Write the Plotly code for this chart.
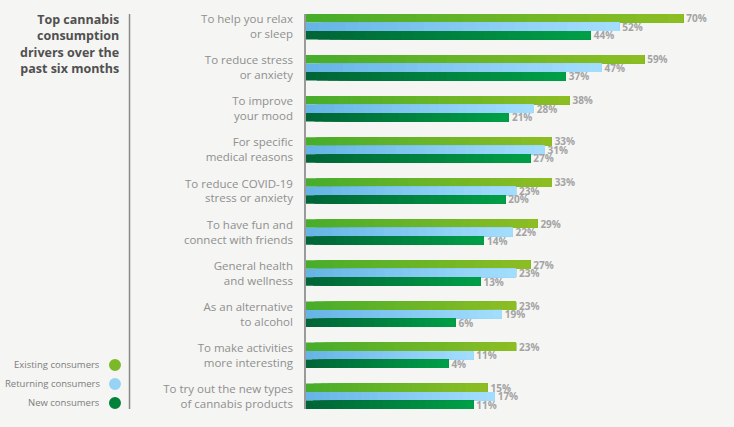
import plotly.graph_objects as go

# chart data
categories = [
    "To help you relax<br>or sleep",
    "To reduce stress<br>or anxiety",
    "To improve<br>your mood",
    "For specific<br>medical reasons",
    "To reduce COVID-19<br>stress or anxiety",
    "To have fun and<br>connect with friends",
    "General health<br>and wellness",
    "As an alternative<br>to alcohol",
    "To make activities<br>more interesting",
    "To try out the new types<br>of cannabis products",
]
existing = [70, 59, 38, 33, 33, 29, 27, 23, 23, 15]
returning = [52, 47, 28, 31, 23, 22, 23, 19, 11, 17]
new = [44, 37, 21, 27, 20, 14, 13, 6, 4, 11]
series_names = ["Existing consumers", "Returning consumers", "New consumers"]

# styling
BG = "#f5f5f3"
OFFSET = 36      # bars start left of zero, like the original layout
N_SEG = 24       # overlapping segments used to fake the horizontal gradient
gradients = [
    ((72, 173, 42), (140, 189, 35)),
    ((102, 181, 230), (163, 221, 253)),
    ((0, 102, 55), (0, 158, 71)),
]
legend_colors = ["#7cb92a", "#97d3f5", "#00823c"]


def mix(c0, c1, t):
    return "rgb({},{},{})".format(*[round(a + (b - a) * t) for a, b in zip(c0, c1)])


fig = go.Figure()
for s, vals in enumerate([existing, returning, new]):
    c0, c1 = gradients[s]
    lengths = [v + OFFSET for v in vals]
    for k in range(N_SEG):
        last = k == N_SEG - 1
        # each segment runs to the bar end; later ones sit on top, so no seams
        fig.add_trace(go.Bar(
            y=categories,
            x=[L * (N_SEG - k) / N_SEG for L in lengths],
            base=[-OFFSET + L * k / N_SEG for L in lengths],
            orientation="h",
            offsetgroup=str(s),
            marker=dict(color=mix(c0, c1, k / (N_SEG - 1)), line=dict(width=0)),
            text=[f"{v}%" for v in vals] if last else None,
            textposition="outside" if last else "none",
            textfont=dict(family="Open Sans", size=10, color="#a3a3a3", weight="bold"),
            constraintext="none",
            cliponaxis=False,
            showlegend=False,
            name=series_names[s],
            hoverinfo="skip" if not last else None,
        ))

fig.update_layout(
    width=734, height=427,
    margin=dict(l=306, r=14, t=14, b=18),
    paper_bgcolor=BG, plot_bgcolor=BG,
    barmode="group", bargap=0.38, bargroupgap=0,
    font=dict(family="Open Sans", color="#8c8c8c"),
    xaxis=dict(range=[-OFFSET, 80.3], visible=False),
    yaxis=dict(
        type="category",
        range=[9.31, -0.31],
        showline=True, linecolor="#9a9a9a", linewidth=1.5,
        showgrid=False, ticks="", ticklabelstandoff=9,
        tickfont=dict(family="Open Sans", size=11.5, color="#8f8f8f"),
    ),
)

# title on the left
fig.add_annotation(
    text="Top cannabis<br>consumption<br>drivers over the<br>past six months",
    xref="paper", yref="paper", x=-0.447, y=1.012, xanchor="right", yanchor="top",
    align="right", showarrow=False,
    font=dict(family="Open Sans", size=12.5, color="#505050", weight="bold"),
)

# separator line
fig.add_shape(type="line", xref="paper", yref="paper", x0=-0.4263, x1=-0.4263, y0=0, y1=1,
              line=dict(color="#8a8a8a", width=1.5))

# custom legend
legend_y = [0.1114, 0.0633, 0.0152]
for name, col, ly in zip(series_names, legend_colors, legend_y):
    fig.add_annotation(text=name, xref="paper", yref="paper", x=-0.4928, y=ly,
                       xanchor="right", yanchor="middle", showarrow=False,
                       font=dict(family="Open Sans", size=9.5, color="#7d7d7d"))
    fig.add_shape(type="circle", xref="paper", yref="paper",
                  xsizemode="pixel", ysizemode="pixel",
                  xanchor=-0.4614, yanchor=ly, x0=-6, x1=6, y0=-6, y1=6,
                  fillcolor=col, line=dict(width=0))

# drop the default page margin so the figure sits at the window corner
fig.write_html("out.html", config={"displayModeBar": False},
               post_script="document.body.style.margin='0';"
                           "document.body.style.background='%s';" % BG)
